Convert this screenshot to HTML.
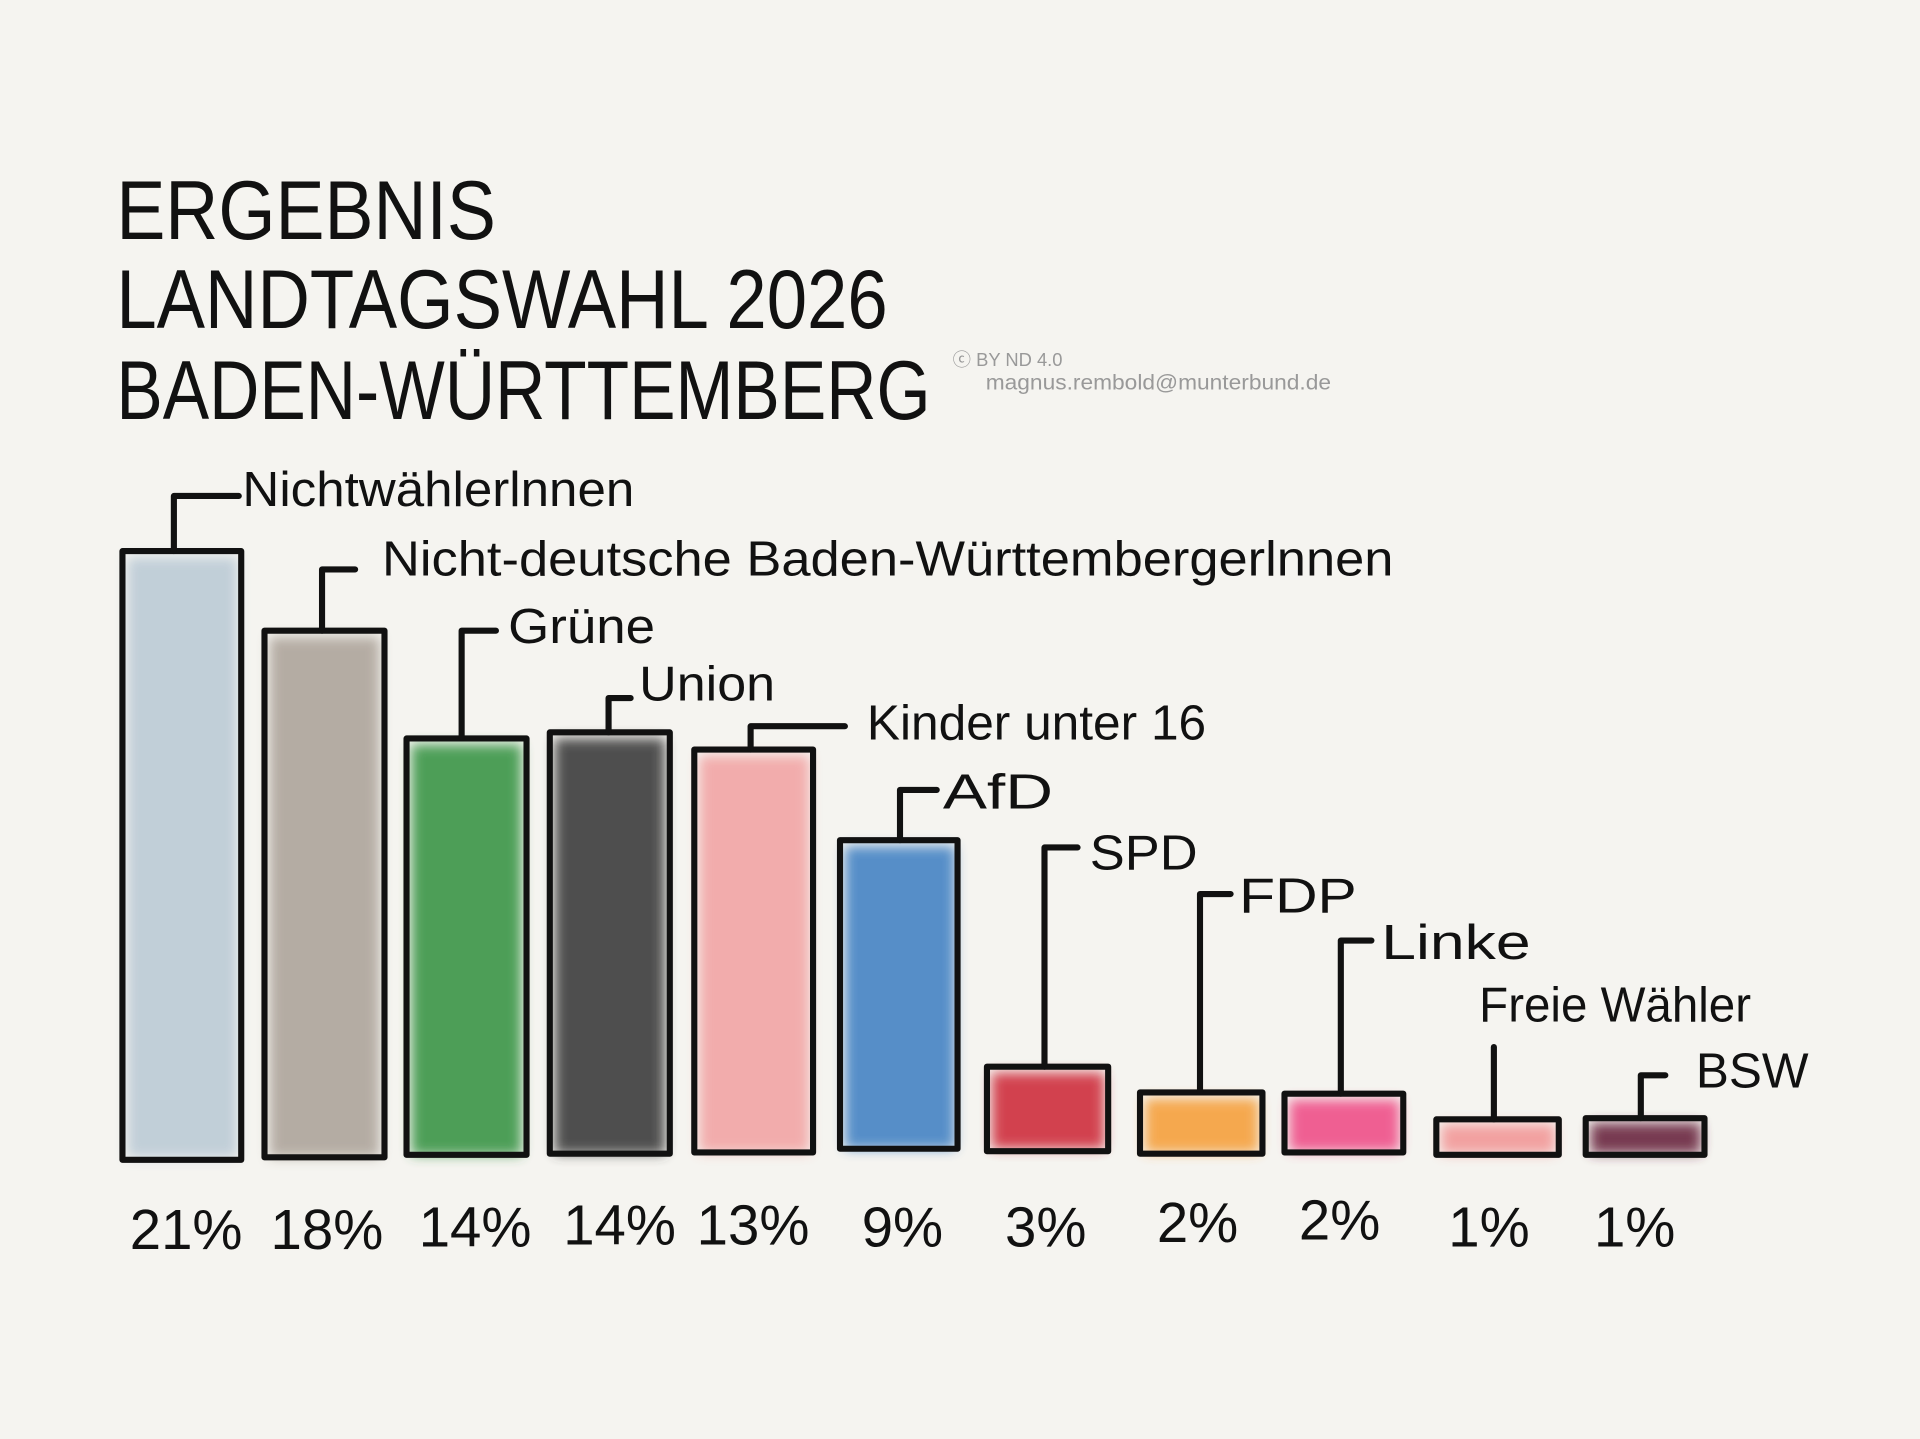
<!DOCTYPE html>
<html><head><meta charset="utf-8"><style>
html,body{margin:0;padding:0;background:#f5f4f0;}
svg{display:block;}
text{font-family:"Liberation Sans",sans-serif;fill:#111;}
</style></head><body>
<svg width="1920" height="1439" viewBox="0 0 1568 1175" preserveAspectRatio="none" xmlns="http://www.w3.org/2000/svg">
<defs>
<filter id="blur" x="-20%" y="-20%" width="140%" height="140%"><feGaussianBlur stdDeviation="5"/></filter>
</defs>
<rect width="1568" height="1175" fill="#f5f4f0"/>
<g font-size="68" font-weight="400">
<text x="95" y="195" textLength="310" lengthAdjust="spacingAndGlyphs">ERGEBNIS</text>
<text x="95" y="268" textLength="630" lengthAdjust="spacingAndGlyphs">LANDTAGSWAHL 2026</text>
<text x="95" y="342" textLength="665" lengthAdjust="spacingAndGlyphs">BADEN-WÜRTTEMBERG</text>
</g>
<text x="778" y="299" font-size="15" style="fill:#999">ⓒ BY ND 4.0</text>
<text x="805" y="318" font-size="17" style="fill:#999" textLength="282" lengthAdjust="spacingAndGlyphs">magnus.rembold@munterbund.de</text>

<g filter="url(#blur)" opacity="0.9">
<rect x="104" y="455" width="90" height="490" fill="#bccbd6"/>
<rect x="220" y="520" width="90" height="425" fill="#aea59b"/>
<rect x="336" y="608" width="90" height="335" fill="#3a9546"/>
<rect x="453" y="603" width="90" height="339" fill="#3e3e3e"/>
<rect x="571" y="617" width="90" height="324" fill="#f2a5a5"/>
<rect x="690" y="691" width="90" height="247" fill="#4583c4"/>
<rect x="810" y="876" width="92" height="62" fill="#cf2e3c"/>
<rect x="935" y="897" width="93" height="44" fill="#f5a03e"/>
<rect x="1053" y="898" width="90" height="42" fill="#ef4f88"/>
<rect x="1177" y="918" width="93" height="24" fill="#f29898"/>
<rect x="1299" y="917" width="90" height="25" fill="#6a2841"/>
</g>
<g fill="none" stroke="#111" stroke-width="5" stroke-linejoin="round" stroke-linecap="round">
<rect x="100" y="450" width="97" height="497"/>
<rect x="216" y="515" width="98" height="430"/>
<rect x="332" y="603" width="98" height="340"/>
<rect x="449" y="598" width="98" height="344"/>
<rect x="567" y="612" width="97" height="329"/>
<rect x="686" y="686" width="96" height="252"/>
<rect x="806" y="871" width="99" height="69"/>
<rect x="931" y="892" width="100" height="50"/>
<rect x="1049" y="893" width="97" height="48"/>
<rect x="1173" y="914" width="100" height="29"/>
<rect x="1295" y="913" width="97" height="30"/>
<polyline points="142,450 142,405 195,405"/>
<polyline points="263,515 263,465 290,465"/>
<polyline points="377,603 377,515 405,515"/>
<polyline points="497,598 497,570 515,570"/>
<polyline points="613,612 613,593 690,593"/>
<polyline points="735,686 735,645 765,645"/>
<polyline points="853,871 853,692 880,692"/>
<polyline points="980,892 980,730 1005,730"/>
<polyline points="1095,893 1095,768 1120,768"/>
<polyline points="1220,914 1220,855"/>
<polyline points="1340,913 1340,878 1360,878"/>
</g>
<g font-size="40">
<text x="198" y="413" textLength="320" lengthAdjust="spacingAndGlyphs">Nichtwählerlnnen</text>
<text x="312" y="470" textLength="826" lengthAdjust="spacingAndGlyphs">Nicht-deutsche Baden-Württembergerlnnen</text>
<text x="415" y="525" textLength="120" lengthAdjust="spacingAndGlyphs">Grüne</text>
<text x="522" y="572" textLength="111" lengthAdjust="spacingAndGlyphs">Union</text>
<text x="708" y="604" textLength="277" lengthAdjust="spacingAndGlyphs">Kinder unter 16</text>
<text x="770" y="660" textLength="90" lengthAdjust="spacingAndGlyphs">AfD</text>
<text x="890" y="710" textLength="88" lengthAdjust="spacingAndGlyphs">SPD</text>
<text x="1012" y="745" textLength="96" lengthAdjust="spacingAndGlyphs">FDP</text>
<text x="1128" y="783" textLength="122" lengthAdjust="spacingAndGlyphs">Linke</text>
<text x="1208" y="834" textLength="222" lengthAdjust="spacingAndGlyphs">Freie Wähler</text>
<text x="1385" y="888" textLength="92" lengthAdjust="spacingAndGlyphs">BSW</text>
</g>
<g font-size="46" text-anchor="middle">
<text x="152" y="1020">21%</text>
<text x="267" y="1020">18%</text>
<text x="388" y="1018">14%</text>
<text x="506" y="1016">14%</text>
<text x="615" y="1016">13%</text>
<text x="737" y="1018">9%</text>
<text x="854" y="1018">3%</text>
<text x="978" y="1014">2%</text>
<text x="1094" y="1012">2%</text>
<text x="1216" y="1018">1%</text>
<text x="1335" y="1018">1%</text>
</g>
</svg>
</body></html>
